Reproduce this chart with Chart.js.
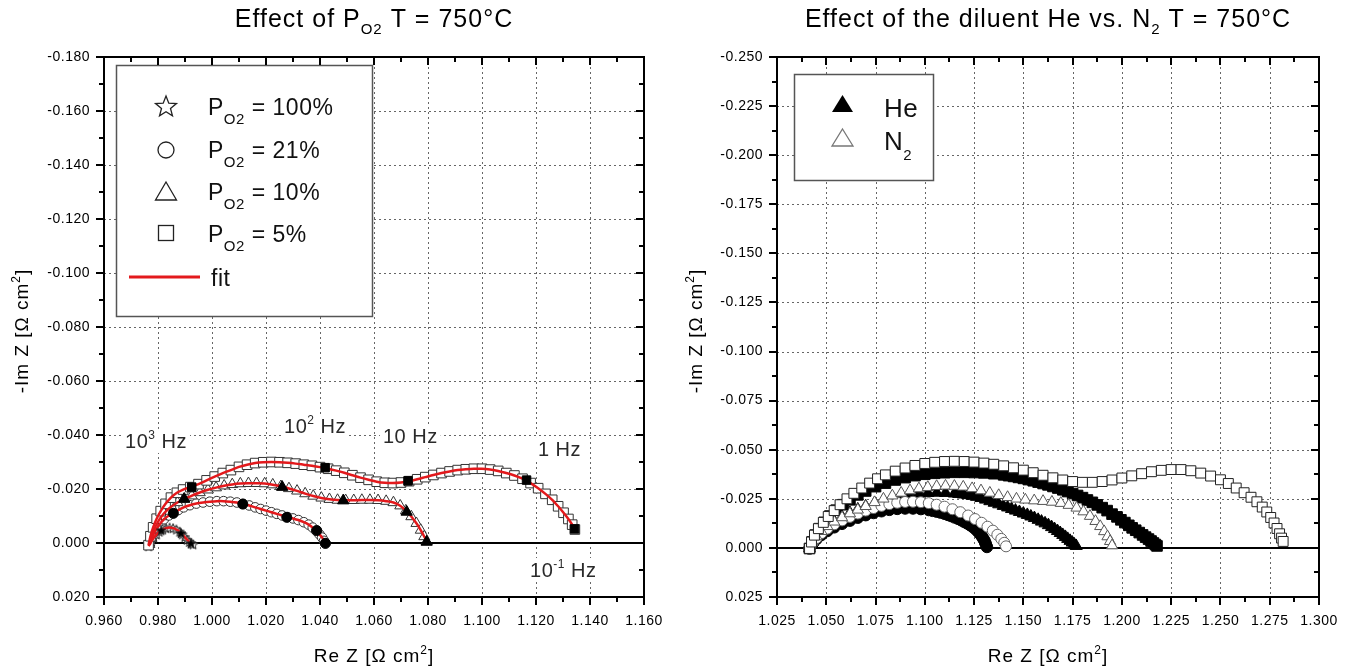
<!DOCTYPE html>
<html>
<head>
<meta charset="utf-8">
<script src="https://cdn.jsdelivr.net/npm/chart.js@4.4.1/dist/chart.umd.min.js"></script>
<style>
  body { margin: 0; background: #fff; }
  #wrap { position: relative; width: 1348px; height: 670px; }
  canvas { position: absolute; top: 0; }
  #chartA { left: 0; }
  #chartB { left: 674px; }
</style>
</head>
<body>
<div id="wrap">
  <canvas id="chartA" width="674" height="670"></canvas>
  <canvas id="chartB" width="674" height="670"></canvas>
</div>
<script>
// ---- Panel A: effect of pO2 (x = Re Z, y = Im Z, Ohm cm2) ----
const xTicksA = [0.96, 0.98, 1.00, 1.02, 1.04, 1.06, 1.08, 1.10, 1.12, 1.14, 1.16];
const yTicksA = [-0.18, -0.16, -0.14, -0.12, -0.10, -0.08, -0.06, -0.04, -0.02, 0.00, 0.02];

const pO2_100 = [[0.9765,0.0012],[0.9775,-0.0005],[0.9785,-0.002],[0.9795,-0.0032],[0.9805,-0.0042],[0.9818,-0.005],
  [0.983,-0.0055],[0.9843,-0.0057],[0.9856,-0.0055],[0.9868,-0.005],[0.988,-0.0042],[0.989,-0.0032],[0.9899,-0.0022],
  [0.9908,-0.0012],[0.9916,-0.0004],[0.9924,0.0002],[0.993,0.0005]];
const pO2_21 = [[0.977,0.0005],[0.9778,-0.002],[0.979,-0.0045],[0.9805,-0.0068],[0.9822,-0.0088],[0.984,-0.0102],
  [0.9856,-0.011],[0.9875,-0.0122],[0.9895,-0.0132],[0.9918,-0.014],[0.9942,-0.0146],[0.9967,-0.015],[0.9992,-0.0153],
  [1.0018,-0.0155],[1.0043,-0.0155],[1.0068,-0.0153],[1.0092,-0.015],[1.0115,-0.0145],[1.0138,-0.0139],[1.016,-0.0132],
  [1.018,-0.0126],[1.020,-0.012],[1.022,-0.0114],[1.024,-0.0108],[1.026,-0.0102],[1.028,-0.0096],[1.030,-0.0091],
  [1.032,-0.0085],[1.034,-0.0077],[1.0358,-0.0068],[1.0373,-0.0057],[1.0386,-0.0045],[1.0398,-0.0032],[1.0408,-0.002],
  [1.0415,-0.0008],[1.042,0.0002]];
const pO2_10 = [[0.9768,0.0005],[0.9775,-0.002],[0.9785,-0.0048],[0.9798,-0.0075],[0.9813,-0.0098],[0.983,-0.0118],
  [0.985,-0.0135],[0.9872,-0.015],[0.9897,-0.0163],[0.9925,-0.0175],[0.9955,-0.0187],[0.9985,-0.0197],[1.0015,-0.0205],
  [1.0045,-0.0212],[1.0075,-0.0217],[1.0105,-0.022],[1.0135,-0.0221],[1.0165,-0.0221],[1.0195,-0.022],[1.0225,-0.0216],
  [1.0255,-0.021],[1.0285,-0.0202],[1.0315,-0.0193],[1.0345,-0.0183],[1.0375,-0.0174],[1.0405,-0.0167],[1.0435,-0.0162],
  [1.0465,-0.0159],[1.0495,-0.0158],[1.0525,-0.0158],[1.0555,-0.0159],[1.0585,-0.0159],[1.0615,-0.0158],[1.0645,-0.0155],
  [1.0672,-0.015],[1.0697,-0.0138],[1.0718,-0.012],[1.0738,-0.0098],[1.0757,-0.0073],[1.0773,-0.0048],[1.0786,-0.0024],
  [1.0795,-0.0005]];
const pO2_5 = [[0.9765,0.0008],[0.9772,-0.0025],[0.9782,-0.0058],[0.9795,-0.009],[0.981,-0.0118],[0.9828,-0.0145],
  [0.9848,-0.0168],[0.987,-0.0186],[0.9893,-0.0198],[0.992,-0.0207],[0.995,-0.0218],[0.998,-0.0232],[1.001,-0.0246],
  [1.004,-0.0259],[1.007,-0.027],[1.010,-0.0282],[1.013,-0.029],[1.016,-0.0296],[1.019,-0.0299],[1.022,-0.030],
  [1.025,-0.0299],[1.028,-0.0297],[1.031,-0.0294],[1.034,-0.029],[1.037,-0.0286],[1.040,-0.0281],[1.043,-0.0275],
  [1.046,-0.0268],[1.049,-0.026],[1.052,-0.0251],[1.055,-0.0242],[1.058,-0.0234],[1.061,-0.0227],[1.064,-0.0223],
  [1.067,-0.0222],[1.070,-0.0224],[1.073,-0.0229],[1.076,-0.0236],[1.079,-0.0244],[1.082,-0.0252],[1.085,-0.0259],
  [1.088,-0.0265],[1.091,-0.027],[1.094,-0.0273],[1.097,-0.0275],[1.100,-0.0275],[1.103,-0.0272],[1.106,-0.0267],
  [1.109,-0.0259],[1.112,-0.025],[1.115,-0.0238],[1.118,-0.0222],[1.1208,-0.0203],[1.1235,-0.0182],[1.126,-0.016],
  [1.1282,-0.0136],[1.1302,-0.0112],[1.132,-0.0089],[1.1334,-0.0068],[1.1344,-0.005]];

// filled markers at 10^3, 10^2, 10, 1 and 0.1 Hz
const dec_100 = [[0.9812,-0.0047],[0.9885,-0.0037],[0.9922,0.0001]];
const dec_21 = [[0.9857,-0.011],[1.0114,-0.0144],[1.0277,-0.0095],[1.0388,-0.0046],[1.042,0.0001]];
const dec_10 = [[0.9897,-0.0163],[1.026,-0.0207],[1.0486,-0.0157],[1.0721,-0.0115],[1.0795,-0.0004]];
const dec_5 = [[0.9925,-0.0207],[1.0419,-0.0279],[1.0726,-0.023],[1.1165,-0.0233],[1.1343,-0.0052]];

// ---- Panel B: He vs N2 diluent ----
const xTicksB = [1.025, 1.05, 1.075, 1.1, 1.125, 1.15, 1.175, 1.2, 1.225, 1.25, 1.275, 1.3];
const yTicksB = [-0.25, -0.225, -0.2, -0.175, -0.15, -0.125, -0.1, -0.075, -0.05, -0.025, 0, 0.025];

const n2_sq = [[1.0415,0.0003],[1.0425,-0.003],[1.044,-0.0065],[1.046,-0.0098],[1.0485,-0.013],[1.051,-0.016],
  [1.054,-0.019],[1.057,-0.022],[1.0605,-0.025],[1.064,-0.0278],[1.068,-0.0305],[1.072,-0.033],[1.076,-0.0352],
  [1.080,-0.0372],[1.085,-0.0391],[1.090,-0.0407],[1.095,-0.042],[1.100,-0.043],[1.105,-0.0436],[1.110,-0.044],
  [1.115,-0.0441],[1.120,-0.044],[1.125,-0.0437],[1.130,-0.0432],[1.135,-0.0426],[1.140,-0.0418],[1.145,-0.0408],
  [1.150,-0.0396],[1.155,-0.0383],[1.160,-0.037],[1.165,-0.0357],[1.170,-0.0346],[1.175,-0.0338],[1.180,-0.0334],
  [1.185,-0.0334],[1.190,-0.0338],[1.195,-0.0346],[1.200,-0.0356],[1.205,-0.0367],[1.210,-0.0378],[1.215,-0.0388],
  [1.220,-0.0395],[1.225,-0.0399],[1.230,-0.0399],[1.235,-0.0393],[1.240,-0.0381],[1.245,-0.0366],[1.250,-0.0347],
  [1.254,-0.0328],[1.258,-0.0305],[1.262,-0.0281],[1.2655,-0.0258],[1.2685,-0.0235],[1.2712,-0.0208],[1.2735,-0.0183],
  [1.2755,-0.0155],[1.2772,-0.0127],[1.2787,-0.0099],[1.280,-0.0072],[1.281,-0.005],[1.2818,-0.0033]];
const he_sq = [[1.0415,0.0003],[1.0428,-0.003],[1.0445,-0.0065],[1.0465,-0.0098],[1.049,-0.013],[1.0518,-0.0162],
  [1.055,-0.0192],[1.0585,-0.022],[1.062,-0.0245],[1.066,-0.027],[1.070,-0.029],[1.075,-0.0312],[1.080,-0.033],
  [1.085,-0.0346],[1.090,-0.0358],[1.095,-0.0368],[1.100,-0.0375],[1.105,-0.038],[1.110,-0.0383],[1.115,-0.0385],
  [1.120,-0.0385],[1.125,-0.0384],[1.130,-0.0382],[1.135,-0.0378],[1.140,-0.0372],[1.1425,-0.0368],[1.145,-0.0364],
  [1.1475,-0.0359],[1.150,-0.0354],[1.1525,-0.0348],[1.155,-0.0342],[1.1575,-0.0335],[1.160,-0.0328],[1.1625,-0.0321],
  [1.165,-0.0313],[1.1675,-0.0305],[1.170,-0.0296],[1.1725,-0.0287],[1.175,-0.0277],[1.1775,-0.0267],[1.180,-0.0256],
  [1.1825,-0.0244],[1.185,-0.0232],[1.1875,-0.0219],[1.190,-0.0205],[1.1925,-0.019],[1.195,-0.0172],[1.1975,-0.0158],
  [1.1995,-0.0143],[1.2015,-0.0129],[1.2035,-0.0115],[1.2052,-0.0102],[1.207,-0.009],[1.2088,-0.0078],[1.2105,-0.0066],
  [1.212,-0.0055],[1.2135,-0.0045],[1.2148,-0.0035],[1.216,-0.0025],[1.217,-0.0017],[1.2178,-0.001]];
const n2_tri = [[1.0415,0.0003],[1.043,-0.003],[1.045,-0.0058],[1.0475,-0.0085],[1.0505,-0.011],[1.054,-0.0133],
  [1.058,-0.0155],[1.062,-0.0175],[1.066,-0.0194],[1.070,-0.0212],[1.0745,-0.0232],[1.079,-0.025],[1.0835,-0.0266],
  [1.088,-0.028],[1.0925,-0.0292],[1.097,-0.0302],[1.1015,-0.0309],[1.106,-0.0314],[1.1105,-0.0316],[1.115,-0.0315],
  [1.1195,-0.0311],[1.124,-0.0303],[1.1285,-0.0292],[1.133,-0.028],[1.1375,-0.0268],[1.142,-0.0258],[1.1465,-0.025],
  [1.151,-0.0245],[1.1555,-0.0241],[1.160,-0.0238],[1.1645,-0.0234],[1.169,-0.0228],[1.173,-0.0218],[1.177,-0.0204],
  [1.1805,-0.0185],[1.1838,-0.0162],[1.1866,-0.0136],[1.189,-0.011],[1.191,-0.0084],[1.1927,-0.0058],[1.194,-0.0034],
  [1.195,-0.0012]];
const he_tri = [[1.0415,0.0003],[1.043,-0.003],[1.045,-0.006],[1.0475,-0.0088],[1.0505,-0.0113],[1.054,-0.0136],
  [1.058,-0.0158],[1.062,-0.0178],[1.066,-0.0196],[1.070,-0.0212],[1.0745,-0.0228],[1.079,-0.0242],[1.0835,-0.0254],
  [1.088,-0.0264],[1.0925,-0.0272],[1.097,-0.0277],[1.1015,-0.028],[1.106,-0.0281],[1.1105,-0.028],[1.115,-0.0277],
  [1.1172,-0.0275],[1.1195,-0.0272],[1.1218,-0.0269],[1.124,-0.0265],[1.1262,-0.026],[1.1285,-0.0254],[1.1308,-0.0246],
  [1.133,-0.0238],[1.1352,-0.023],[1.1375,-0.0222],[1.1398,-0.0214],[1.142,-0.0206],[1.144,-0.0198],[1.146,-0.019],
  [1.148,-0.0183],[1.150,-0.0175],[1.152,-0.0168],[1.1538,-0.016],[1.1556,-0.0152],[1.1575,-0.0143],[1.1592,-0.0134],
  [1.161,-0.0125],[1.1627,-0.0116],[1.1643,-0.0106],[1.1658,-0.0096],[1.1673,-0.0086],[1.1687,-0.0076],[1.170,-0.0066],
  [1.1713,-0.0056],[1.1725,-0.0046],[1.1737,-0.0036],[1.1748,-0.0027],[1.1758,-0.0018],[1.1768,-0.001]];
const n2_circ = [[1.0415,0.0003],[1.043,-0.0025],[1.045,-0.005],[1.0475,-0.0075],[1.0505,-0.0098],[1.054,-0.012],
  [1.058,-0.014],[1.062,-0.0158],[1.066,-0.0175],[1.070,-0.019],[1.074,-0.0203],[1.078,-0.0214],[1.082,-0.0223],
  [1.086,-0.023],[1.090,-0.0234],[1.094,-0.0235],[1.098,-0.0233],[1.102,-0.0228],[1.106,-0.022],[1.110,-0.021],
  [1.114,-0.0197],[1.118,-0.0182],[1.122,-0.0165],[1.1255,-0.0147],[1.1288,-0.0128],[1.1318,-0.0108],[1.1345,-0.0088],
  [1.1368,-0.0067],[1.1388,-0.0046],[1.1403,-0.0026],[1.1412,-0.0008]];
const he_circ = [[1.0415,0.0003],[1.043,-0.0022],[1.045,-0.0045],[1.0475,-0.0066],[1.0505,-0.0086],[1.054,-0.0105],
  [1.058,-0.0123],[1.062,-0.0139],[1.066,-0.0154],[1.070,-0.0167],[1.074,-0.0178],[1.078,-0.0187],[1.082,-0.0194],
  [1.086,-0.0199],[1.090,-0.0201],[1.094,-0.0201],[1.098,-0.0198],[1.102,-0.0193],[1.104,-0.0189],[1.106,-0.0185],
  [1.108,-0.018],[1.110,-0.0174],[1.1118,-0.0168],[1.1135,-0.0162],[1.1152,-0.0155],[1.117,-0.0148],[1.1185,-0.0141],
  [1.120,-0.0133],[1.1215,-0.0125],[1.123,-0.0116],[1.1243,-0.0107],[1.1255,-0.0098],[1.1265,-0.0088],[1.1275,-0.0078],
  [1.1283,-0.0068],[1.129,-0.0058],[1.1296,-0.0048],[1.1302,-0.0038],[1.1306,-0.0028],[1.131,-0.0018],[1.1315,-0.0005]];

const FONT = 'Arial, "Liberation Sans", sans-serif';
const RED = '#e3191c';
const toXY = arr => arr.map(p => ({ x: p[0], y: p[1] }));
const fmt = v => (Math.abs(v) < 1e-9 ? 0 : v).toFixed(3);

function starPath(g, cx, cy, R) {
  g.beginPath();
  for (let i = 0; i < 10; i++) {
    const r = i % 2 ? R * 0.43 : R;
    const t = -Math.PI / 2 + i * Math.PI / 5;
    g.lineTo(cx + r * Math.cos(t), cy + r * Math.sin(t));
  }
  g.closePath();
}
function starImage(size, filled) {
  const c = document.createElement('canvas');
  c.width = c.height = size;
  const g = c.getContext('2d');
  starPath(g, size / 2, size / 2 + 0.5, size / 2 - 1);
  g.fillStyle = filled ? '#000' : '#fff';
  g.fill();
  g.strokeStyle = '#222';
  g.lineWidth = 1;
  g.stroke();
  return c;
}

function textWidth(ctx, parts) {
  let w = 0;
  for (const [t, s] of parts) { ctx.font = s + 'px ' + FONT; w += ctx.measureText(t).width; }
  return w;
}
// parts: [text, size, dy]
function rich(ctx, parts, x, y, align) {
  let cx = align === 'center' ? x - textWidth(ctx, parts) / 2 : x;
  ctx.textAlign = 'left';
  ctx.textBaseline = 'alphabetic';
  for (const [t, s, dy] of parts) {
    ctx.font = s + 'px ' + FONT;
    ctx.fillText(t, cx, y + (dy || 0));
    cx += ctx.measureText(t).width;
  }
}
function seg(ctx, x1, y1, x2, y2) {
  ctx.beginPath(); ctx.moveTo(x1, y1); ctx.lineTo(x2, y2); ctx.stroke();
}

function frame(cfg) {
  const minor = t => t.slice(1).map((v, i) => (v + t[i]) / 2);
  return {
    id: 'frame',
    beforeDatasetsDraw(chart) {
      const { ctx, chartArea: a, scales: { x, y } } = chart;
      ctx.save();
      ctx.strokeStyle = '#666';
      ctx.lineWidth = 1;
      ctx.setLineDash([2, 3]);
      cfg.xTicks.forEach(v => {
        const px = Math.round(x.getPixelForValue(v)) + 0.5;
        if (px > a.left + 3 && px < a.right - 3) seg(ctx, px, a.top, px, a.bottom);
      });
      cfg.yTicks.forEach(v => {
        const py = Math.round(y.getPixelForValue(v)) + 0.5;
        if (py > a.top + 3 && py < a.bottom - 3 && Math.abs(v) > 1e-9) seg(ctx, a.left, py, a.right, py);
      });
      ctx.setLineDash([]);
      ctx.strokeStyle = '#000';
      ctx.lineWidth = 2;
      const y0 = Math.round(y.getPixelForValue(0));
      seg(ctx, a.left, y0, a.right, y0);
      ctx.restore();
    },
    afterDraw(chart) {
      const { ctx, chartArea: a, scales: { x, y } } = chart;
      ctx.save();
      ctx.letterSpacing = '0.5px';
      cfg.legend(ctx);
      (cfg.notes || []).forEach(n => {
        const px = x.getPixelForValue(n.x), py = y.getPixelForValue(n.y);
        const w = textWidth(ctx, n.parts);
        ctx.fillStyle = '#fff';
        ctx.fillRect(px - 3, py - 19, w + 6, 24);
        ctx.fillStyle = '#2a2a2a';
        rich(ctx, n.parts, px, py, 'left');
      });
      // axis box
      ctx.strokeStyle = '#000';
      ctx.lineWidth = 2;
      ctx.strokeRect(a.left, a.top, a.right - a.left, a.bottom - a.top);
      [[cfg.xTicks, 8], [minor(cfg.xTicks), 5]].forEach(([vals, len]) => vals.forEach(v => {
        const px = Math.round(x.getPixelForValue(v));
        seg(ctx, px, a.bottom, px, a.bottom + len);
        seg(ctx, px, a.top, px, a.top + len);
      }));
      [[cfg.yTicks, 8], [minor(cfg.yTicks), 5]].forEach(([vals, len]) => vals.forEach(v => {
        const py = Math.round(y.getPixelForValue(v));
        seg(ctx, a.left - len, py, a.left, py);
        seg(ctx, a.right - len, py, a.right, py);
      }));
      // tick labels
      ctx.fillStyle = '#000';
      ctx.font = '14px ' + FONT;
      ctx.textAlign = 'center';
      ctx.textBaseline = 'alphabetic';
      cfg.xTicks.forEach(v => ctx.fillText(fmt(v), x.getPixelForValue(v), a.bottom + 28));
      ctx.textAlign = 'right';
      ctx.textBaseline = 'middle';
      cfg.yTicks.forEach(v => ctx.fillText(fmt(v), a.left - 14, y.getPixelForValue(v)));
      // titles
      ctx.letterSpacing = '1px';
      const cxm = (a.left + a.right) / 2;
      rich(ctx, cfg.title, cxm, 27, 'center');
      rich(ctx, [['Re Z [\u03A9 cm', 19], ['2', 12, -8], [']', 19]], cxm, 662, 'center');
      ctx.translate(28, (a.top + a.bottom) / 2 + 4);
      ctx.rotate(-Math.PI / 2);
      rich(ctx, [['-Im Z [\u03A9 cm', 19], ['2', 12, -8], [']', 19]], 0, 0, 'center');
      ctx.restore();
    }
  };
}

function legendA(ctx) {
  ctx.fillStyle = '#fff';
  ctx.fillRect(116, 65, 257, 252);
  ctx.strokeStyle = '#555';
  ctx.lineWidth = 1.5;
  ctx.strokeRect(116.5, 65.5, 256, 251);
  ctx.strokeStyle = '#222';
  ctx.lineWidth = 1.3;
  starPath(ctx, 166, 107, 11); ctx.stroke();
  ctx.beginPath(); ctx.arc(166, 150, 8, 0, 2 * Math.PI); ctx.stroke();
  ctx.beginPath(); ctx.moveTo(166, 182); ctx.lineTo(176.5, 200); ctx.lineTo(155.5, 200); ctx.closePath(); ctx.stroke();
  ctx.strokeRect(158.5, 225.5, 15, 15);
  ctx.strokeStyle = RED;
  ctx.lineWidth = 3;
  seg(ctx, 129, 277, 200, 277);
  ctx.fillStyle = '#111';
  const rows = [['= 100%', 115], ['= 21%', 158], ['= 10%', 200], ['= 5%', 242]];
  rows.forEach(([t, b]) => rich(ctx, [['P', 23], ['O2', 15, 9], [' ' + t, 23]], 208, b, 'left'));
  rich(ctx, [['fit', 23]], 211, 286, 'left');
}

function legendB(ctx) {
  ctx.fillStyle = '#fff';
  ctx.fillRect(120, 74, 140, 107);
  ctx.strokeStyle = '#555';
  ctx.lineWidth = 1.5;
  ctx.strokeRect(120.5, 74.5, 139, 106);
  ctx.fillStyle = '#000';
  ctx.beginPath(); ctx.moveTo(168.5, 95); ctx.lineTo(179, 112); ctx.lineTo(158, 112); ctx.closePath(); ctx.fill();
  ctx.strokeStyle = '#777';
  ctx.lineWidth = 1.3;
  ctx.beginPath(); ctx.moveTo(168.5, 129); ctx.lineTo(179, 146); ctx.lineTo(158, 146); ctx.closePath(); ctx.stroke();
  ctx.fillStyle = '#111';
  rich(ctx, [['He', 26]], 210, 117, 'left');
  rich(ctx, [['N', 26], ['2', 15, 10]], 210, 150, 'left');
}

const starOpen = starImage(12, false);
const starFull = starImage(12, true);

const openA = (arr, style, r) => ({ data: toXY(arr), pointStyle: style, pointRadius: r,
  backgroundColor: '#fff', borderColor: '#333', borderWidth: 1, showLine: false, order: 3 });
const fitA = arr => ({ data: toXY(arr), showLine: true, borderColor: RED, backgroundColor: RED,
  borderWidth: 2.5, pointRadius: 0, tension: 0.3, order: 2 });
const fillA = (arr, style, r) => ({ data: toXY(arr), pointStyle: style, pointRadius: r,
  backgroundColor: '#000', borderColor: '#000', borderWidth: 1, showLine: false, order: 1 });

new Chart(document.getElementById('chartA'), {
  type: 'scatter',
  data: {
    datasets: [
      openA(pO2_5, 'rect', 6.8), openA(pO2_10, 'triangle', 6.3), openA(pO2_21, 'circle', 4.8), openA(pO2_100, starOpen, 6),
      fitA(pO2_5), fitA(pO2_10), fitA(pO2_21), fitA(pO2_100),
      fillA(dec_5, 'rect', 6), fillA(dec_10, 'triangle', 6.5), fillA(dec_21, 'circle', 5), fillA(dec_100, starFull, 6)
    ]
  },
  options: {
    responsive: false, animation: false, events: [],
    layout: { padding: { left: 104, right: 30, top: 57, bottom: 73 } },
    plugins: { legend: { display: false }, tooltip: { enabled: false } },
    scales: {
      x: { type: 'linear', display: false, min: 0.96, max: 1.16 },
      y: { type: 'linear', display: false, min: -0.18, max: 0.02, reverse: true }
    }
  },
  plugins: [frame({
    xTicks: xTicksA, yTicks: yTicksA, legend: legendA,
    title: [['Effect of P', 25], ['O2', 15, 7], [' T = 750\u00B0C', 25]],
    notes: [
      { x: 0.9678, y: -0.0352, parts: [['10', 20], ['3', 12, -9], [' Hz', 20]] },
      { x: 1.0267, y: -0.0407, parts: [['10', 20], ['2', 12, -9], [' Hz', 20]] },
      { x: 1.0633, y: -0.0370, parts: [['10 Hz', 20]] },
      { x: 1.1207, y: -0.0322, parts: [['1 Hz', 20]] },
      { x: 1.1178, y: 0.0126, parts: [['10', 20], ['-1', 12, -9], [' Hz', 20]] }
    ]
  })]
});

const setB = (arr, style, r, filled, edge) => ({ data: toXY(arr), pointStyle: style, pointRadius: r,
  backgroundColor: filled ? '#000' : '#fff', borderColor: filled ? '#000' : edge, borderWidth: 1,
  showLine: false, order: filled ? 2 : 1 });

new Chart(document.getElementById('chartB'), {
  type: 'scatter',
  data: {
    datasets: [
      setB(he_sq, 'rect', 7.5, true), setB(he_tri, 'triangle', 7, true), setB(he_circ, 'circle', 5.8, true),
      setB(n2_sq, 'rect', 7, false, '#222'), setB(n2_tri, 'triangle', 6.5, false, '#555'), setB(n2_circ, 'circle', 5.5, false, '#666')
    ]
  },
  options: {
    responsive: false, animation: false, events: [],
    layout: { padding: { left: 103, right: 29, top: 57, bottom: 73 } },
    plugins: { legend: { display: false }, tooltip: { enabled: false } },
    scales: {
      x: { type: 'linear', display: false, min: 1.025, max: 1.3 },
      y: { type: 'linear', display: false, min: -0.25, max: 0.025, reverse: true }
    }
  },
  plugins: [frame({
    xTicks: xTicksB, yTicks: yTicksB, legend: legendB,
    title: [['Effect of the diluent He vs. N', 25], ['2', 15, 7], [' T = 750\u00B0C', 25]]
  })]
});
</script>
</body>
</html>
